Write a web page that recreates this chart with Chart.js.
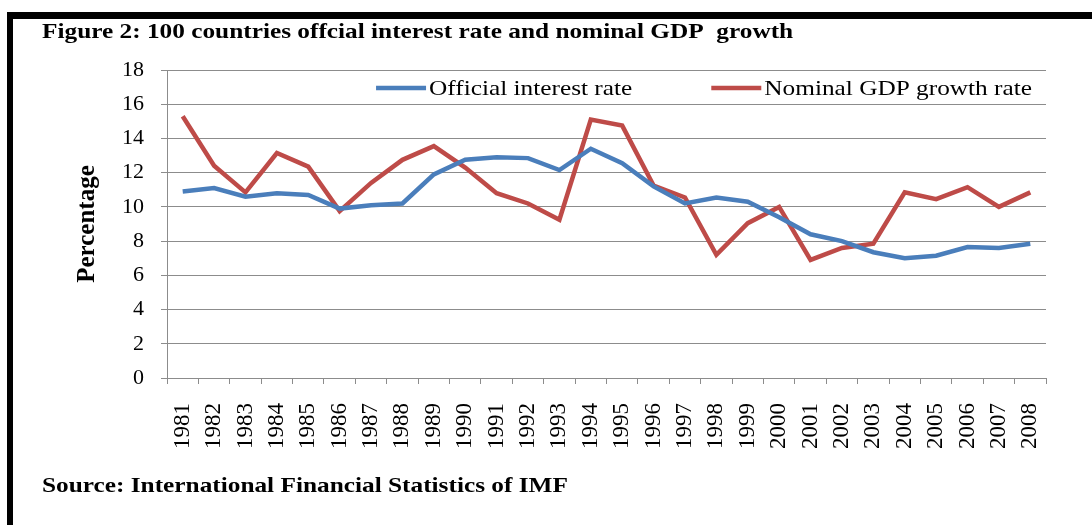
<!DOCTYPE html>
<html>
<head>
<meta charset="utf-8">
<script src="https://cdn.jsdelivr.net/npm/chart.js@4.4.1/dist/chart.umd.min.js"></script>
<style>
  html, body { margin: 0; padding: 0; background: #fff; }
  #wrap { width: 1092px; height: 525px; position: relative; }
</style>
</head>
<body>
<div id="wrap"><canvas id="chart" width="1092" height="525"></canvas></div>
<script>
// data
const years = ['1981','1982','1983','1984','1985','1986','1987','1988','1989','1990',
  '1991','1992','1993','1994','1995','1996','1997','1998','1999','2000',
  '2001','2002','2003','2004','2005','2006','2007','2008'];
const interestRate = [10.9, 11.1, 10.6, 10.8, 10.7, 9.9, 10.1, 10.2, 11.9, 12.75,
  12.9, 12.85, 12.15, 13.4, 12.55, 11.2, 10.2, 10.55, 10.3, 9.4,
  8.4, 8.0, 7.35, 7.0, 7.15, 7.65, 7.6, 7.85];
const gdpGrowth = [15.3, 12.4, 10.85, 13.15, 12.35, 9.75, 11.4, 12.75, 13.55, 12.3,
  10.8, 10.2, 9.25, 15.1, 14.75, 11.25, 10.55, 7.2, 9.05, 10.0,
  6.9, 7.6, 7.85, 10.85, 10.45, 11.15, 10.0, 10.85];
const yTicks = [0, 2, 4, 6, 8, 10, 12, 14, 16, 18];

const blue = '#4a7ebb';
const red = '#be4b48';
const gridGray = '#8c8c8c';
const serif = "'Liberation Serif', 'DejaVu Serif', serif";
const stretch = 1.15; // the original text is set wider than Liberation Serif

function wideText(c, txt, x, y) {
  c.save();
  c.translate(x, y);
  c.scale(stretch, 1);
  c.fillText(txt, 0, 0);
  c.restore();
}

// frame, title, source and the in-plot legend
const decor = {
  id: 'decor',
  afterDraw(chart) {
    const c = chart.ctx;
    const area = chart.chartArea;
    c.save();
    c.fillStyle = '#000';
    c.fillRect(7, 12, 1085, 7);
    c.fillRect(7, 12, 6, 513);
    c.font = 'bold 22px ' + serif;
    c.textBaseline = 'alphabetic';
    c.textAlign = 'left';
    wideText(c, 'Figure 2: 100 countries offcial interest rate and nominal GDP  growth', 42, 38);
    wideText(c, 'Source: International Financial Statistics of IMF', 42, 492);

    // legend
    c.font = '22px ' + serif;
    c.textBaseline = 'middle';
    const sets = chart.data.datasets;
    const lineLen = 50, gap = 3, between = 79;
    const widths = sets.map(ds => c.measureText(ds.label).width * stretch);
    let total = widths.reduce((a, w) => a + lineLen + gap + w, 0) + between * (sets.length - 1);
    let x = area.right - 14 - total;
    const y = area.top + 18;
    sets.forEach((ds, i) => {
      c.strokeStyle = ds.borderColor;
      c.lineWidth = 4.5;
      c.beginPath();
      c.moveTo(x, y);
      c.lineTo(x + lineLen, y);
      c.stroke();
      c.fillStyle = '#000';
      wideText(c, ds.label, x + lineLen + gap, y + 1);
      x += lineLen + gap + widths[i] + between;
    });
    c.restore();
  }
};

new Chart(document.getElementById('chart'), {
  type: 'line',
  data: {
    labels: years,
    datasets: [
      {
        label: 'Official interest rate',
        data: interestRate,
        borderColor: blue,
        backgroundColor: blue,
        borderWidth: 4.5,
        pointRadius: 0,
        tension: 0
      },
      {
        label: 'Nominal GDP growth rate',
        data: gdpGrowth,
        borderColor: red,
        backgroundColor: red,
        borderWidth: 4.5,
        pointRadius: 0,
        tension: 0
      }
    ]
  },
  options: {
    responsive: false,
    animation: false,
    layout: { padding: { left: 0, right: 46, top: 70, bottom: 0 } },
    plugins: {
      legend: { display: false },
      tooltip: { enabled: false }
    },
    scales: {
      x: {
        offset: true,
        grid: { display: true, drawOnChartArea: false, drawTicks: true, tickLength: 6, color: gridGray, offset: true },
        border: { display: true, color: gridGray },
        ticks: { minRotation: 90, maxRotation: 90, autoSkip: false, padding: 19, color: '#000', font: { family: serif, size: 23 } },
        afterFit(scale) { scale.height = 147; }
      },
      y: {
        min: 0,
        max: 18,
        afterBuildTicks(scale) { scale.ticks = yTicks.map(v => ({ value: v })); },
        grid: { color: gridGray, tickLength: 6 },
        border: { display: true, color: gridGray },
        ticks: { padding: 17, color: '#000', font: { family: serif, size: 22 } },
        title: { display: true, text: 'Percentage', color: '#000', padding: { top: 73, bottom: 0 }, font: { family: serif, size: 25, weight: 'bold' } },
        afterFit(scale) { scale.width = 167; }
      }
    }
  },
  plugins: [decor]
});
</script>
</body>
</html>
